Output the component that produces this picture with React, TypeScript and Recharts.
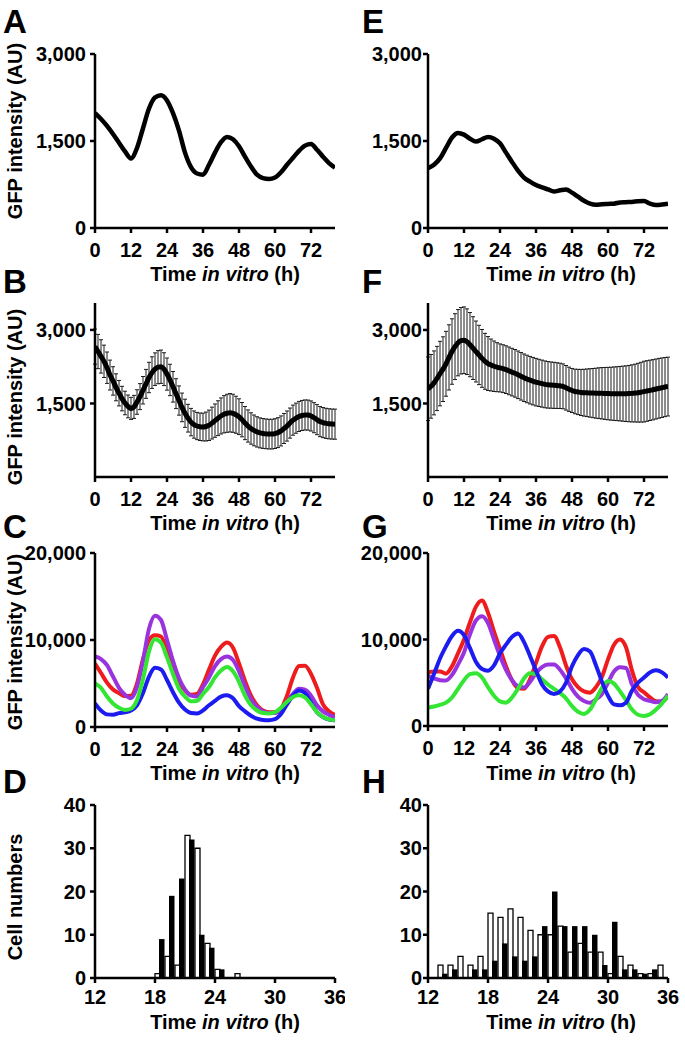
import React from 'react';
import { LineChart, Line, XAxis, YAxis, ErrorBar, BarChart, Bar } from 'recharts';

const FONT = "'Liberation Sans', Arial, Helvetica, sans-serif";

const TIME_TICKS = [0, 12, 24, 36, 48, 60, 72];
const HIST_TICKS = [12, 18, 24, 30, 36];
const GFP_TICKS = [0, 1500, 3000];
const GFP_MEAN_TICKS = [1500, 3000];
const CELL_TICKS = [0, 10000, 20000];
const COUNT_TICKS = [0, 10, 20, 30, 40];

const HOURS_2H = Array.from({ length: 41 }, (_, i) => i * 2);
const HOURS_1H = Array.from({ length: 81 }, (_, i) => i);
const BINS = Array.from({ length: 24 }, (_, i) => 12 + i);

// A: single SCN explant, E: second explant (2 h steps)
const A_GFP = [1980, 1880, 1760, 1620, 1470, 1320, 1200, 1380, 1720, 2060, 2250, 2290, 2200, 1980, 1680, 1300, 1050, 940, 920, 1090, 1300, 1480, 1570, 1530, 1410, 1230, 1060, 920, 860, 845, 870, 960, 1090, 1210, 1330, 1420, 1450, 1350, 1230, 1120, 1040];
const E_GFP = [1030, 1090, 1200, 1380, 1560, 1640, 1610, 1540, 1490, 1530, 1570, 1540, 1460, 1300, 1140, 990, 870, 800, 740, 700, 665, 630, 650, 665, 610, 540, 470, 420, 400, 410, 415, 420, 440, 445, 450, 460, 465, 420, 395, 405, 420];

// B / F: mean with error (1 h steps)
const B_MEAN = [2660, 2560, 2460, 2360, 2230, 2080, 1960, 1830, 1710, 1600, 1510, 1440, 1400, 1430, 1530, 1640, 1770, 1900, 2030, 2130, 2200, 2240, 2250, 2200, 2100, 1980, 1840, 1700, 1560, 1420, 1300, 1200, 1120, 1070, 1040, 1025, 1020, 1030, 1055, 1100, 1150, 1200, 1245, 1280, 1300, 1310, 1300, 1270, 1230, 1170, 1100, 1040, 990, 950, 920, 900, 888, 880, 875, 875, 885, 905, 940, 990, 1040, 1100, 1160, 1200, 1235, 1255, 1265, 1263, 1245, 1210, 1170, 1130, 1110, 1095, 1085, 1080, 1078];
const B_ERR = [358, 350, 340, 330, 320, 305, 290, 275, 260, 250, 240, 232, 225, 235, 250, 265, 280, 295, 310, 322, 332, 338, 340, 335, 328, 320, 312, 305, 298, 292, 287, 283, 280, 278, 278, 280, 283, 295, 310, 325, 340, 355, 368, 380, 388, 392, 388, 378, 365, 350, 338, 328, 320, 314, 309, 306, 304, 303, 303, 303, 304, 305, 306, 306, 307, 307, 307, 307, 307, 307, 307, 307, 307, 307, 307, 307, 307, 307, 307, 307, 307];
const F_MEAN = [1800, 1850, 1920, 2010, 2110, 2200, 2310, 2440, 2560, 2660, 2740, 2780, 2790, 2760, 2700, 2630, 2560, 2490, 2420, 2360, 2315, 2285, 2260, 2240, 2225, 2210, 2190, 2165, 2140, 2115, 2085, 2055, 2025, 2000, 1975, 1955, 1935, 1920, 1905, 1890, 1880, 1875, 1870, 1865, 1860, 1850, 1820, 1790, 1765, 1745, 1735, 1725, 1720, 1718, 1715, 1712, 1710, 1710, 1708, 1705, 1702, 1700, 1700, 1700, 1700, 1700, 1700, 1702, 1706, 1712, 1720, 1730, 1742, 1755, 1768, 1780, 1795, 1810, 1822, 1835, 1845];
const F_ERR = [648, 650, 652, 655, 658, 660, 662, 665, 668, 672, 676, 678, 680, 670, 655, 640, 622, 605, 590, 570, 550, 530, 515, 500, 490, 488, 487, 487, 486, 486, 486, 486, 485, 485, 485, 485, 485, 482, 480, 478, 475, 472, 470, 466, 462, 458, 455, 452, 450, 455, 462, 470, 478, 486, 494, 502, 510, 518, 524, 530, 535, 540, 545, 550, 556, 562, 568, 575, 582, 590, 600, 610, 620, 618, 616, 614, 612, 610, 607, 604, 600];

// C / G: single cells (2 h steps)
const C_RED = [7300, 6200, 5100, 4300, 3900, 3550, 3600, 5000, 7800, 10000, 10550, 10400, 8800, 7000, 5200, 4200, 3700, 3800, 4900, 6600, 8200, 9200, 9700, 9100, 7300, 5300, 3600, 2500, 1900, 1700, 1700, 2100, 3600, 5700, 7000, 7050, 6100, 4500, 2600, 1800, 1400];
const C_PURPLE = [8100, 7800, 7100, 5800, 4500, 3700, 3300, 4600, 7600, 11300, 12800, 12300, 10000, 7600, 5600, 4300, 3600, 3500, 4600, 5700, 7000, 7800, 8100, 7700, 6400, 4700, 3200, 2300, 1800, 1600, 1600, 2000, 2900, 3800, 4400, 4300, 3600, 2500, 1800, 1400, 1150];
const C_GREEN = [5000, 4500, 3500, 2700, 2200, 1950, 2100, 3100, 5500, 8700, 10100, 9700, 8000, 6100, 4400, 3500, 2950, 3000, 3800, 4600, 5700, 6500, 6900, 6400, 5200, 3600, 2500, 1900, 1600, 1550, 1700, 2200, 2900, 3450, 3650, 3400, 2600, 1700, 1150, 880, 770];
const C_BLUE = [2700, 1900, 1450, 1400, 1600, 1700, 1900, 2500, 3900, 5800, 6800, 6600, 5400, 4000, 2800, 2000, 1600, 1550, 1900, 2500, 3000, 3500, 3650, 3300, 2400, 1800, 1300, 950, 800, 780, 900, 1500, 2600, 3600, 4200, 3900, 2800, 1700, 1150, 850, 770];
const G_RED = [6200, 6300, 6300, 6050, 6900, 8400, 10000, 12000, 13800, 14500, 13100, 10900, 8900, 6900, 5300, 4400, 4300, 5400, 7300, 9200, 10300, 10400, 9100, 7000, 5400, 4500, 4000, 3850, 4500, 5700, 7700, 9400, 10000, 9100, 6400, 4500, 3900, 3300, 2850, 2800, 3500];
const G_PURPLE = [5800, 5500, 5300, 5250, 5900, 7100, 8500, 10600, 12200, 12700, 11900, 10000, 8100, 6500, 5300, 4600, 4450, 5100, 6100, 6800, 7100, 7100, 6500, 5500, 4300, 3400, 2900, 2700, 3100, 3700, 5000, 6300, 6800, 6700, 4800, 3600, 3100, 2900, 2750, 2900, 3700];
const G_GREEN = [2150, 2250, 2450, 2700, 3300, 4300, 5300, 6000, 6100, 5600, 4500, 3500, 2850, 2700, 3300, 4300, 5500, 6100, 6000, 5400, 4800, 4300, 3800, 3200, 2300, 1650, 1400, 1900, 3100, 4400, 5200, 4900, 4000, 3000, 1900, 1300, 1150, 1350, 1900, 2600, 3500];
const G_BLUE = [4300, 6000, 7800, 9200, 10400, 11000, 10500, 9000, 7400, 6600, 6400, 7000, 8400, 9400, 10300, 10700, 9700, 8100, 6400, 4800, 4000, 3700, 4000, 5000, 6900, 8200, 8900, 8600, 7000, 5100, 3500, 2500, 2400, 2700, 4100, 5000, 5600, 6200, 6450, 6200, 5600];

// D / H: cell numbers per 1 h bin (open and filled bars)
const D_OPEN = [0, 0, 0, 0, 0, 0, 1, 5, 3, 33, 30, 8, 2, 0, 1, 0, 0, 0, 0, 0, 0, 0, 0, 0];
const D_FILLED = [0, 0, 0, 0, 0, 0, 9, 19, 23, 32, 10, 7, 2, 0, 0, 0, 0, 0, 0, 0, 0, 0, 0, 0];
const H_OPEN = [0, 3, 3, 5, 3, 5, 15, 14, 16, 14, 11, 10, 10, 12, 6, 8, 6, 6, 1, 5, 3, 1, 1, 3];
const H_FILLED = [0, 1, 2, 0, 2, 2, 4, 8, 5, 4, 5, 12, 20, 12, 12, 12, 10, 3, 13, 2, 2, 1, 2, 0];

const RED = '#ee1c1c';
const PURPLE = '#9933dd';
const GREEN = '#33e633';
const BLUE = '#1c1cf0';

const toRows = (xs: number[], cols: Record<string, number[]>) =>
  xs.map((t, i) => {
    const r: any = { t };
    Object.keys(cols).forEach((k) => (r[k] = cols[k][i]));
    return r;
  });

const COLS = {
  left: { x: 0, yw: 95, right: 10, margin: 4 },
  right: { x: 340, yw: 88, right: 17, margin: 1 },
};

const tickStyle = { fill: '#000', fontSize: 20, fontWeight: 700, fontFamily: FONT };
const axisStyle = { stroke: '#000', strokeWidth: 2.5 };
const fmt = (v: number) => v.toLocaleString('en-US');

type Side = 'left' | 'right';

// chart box: 10 px above the plot, 45 px below it for the x axis
const Box: React.FC<{ side: Side; top: number; plotH: number; children: (w: number, h: number) => React.ReactNode }> = ({ side, top, plotH, children }) => (
  <div style={{ position: 'absolute', left: COLS[side].x, top: top - 10 }}>{children(345, plotH + 55)}</div>
);

const yAxis = (side: Side, domain: number[], ticks: number[]) => (
  <YAxis
    type="number"
    domain={domain}
    ticks={ticks}
    interval={0}
    allowDataOverflow
    tickFormatter={fmt}
    width={COLS[side].yw}
    tick={tickStyle}
    tickSize={5}
    tickMargin={COLS[side].margin}
    axisLine={axisStyle}
    tickLine={axisStyle}
  />
);

const timeAxis = (
  <XAxis
    dataKey="t"
    type="number"
    domain={[0, 80]}
    ticks={TIME_TICKS}
    interval={0}
    allowDataOverflow
    height={45}
    tick={tickStyle}
    tickSize={5}
    tickMargin={10}
    axisLine={axisStyle}
    tickLine={axisStyle}
  />
);

const TracePanel: React.FC<{ side: Side; top: number; plotH: number; domain: number[]; ticks: number[]; data: any[]; series: { key: string; color: string; width: number }[] }> = ({ side, top, plotH, domain, ticks, data, series }) => (
  <Box side={side} top={top} plotH={plotH}>
    {(w, h) => (
      <LineChart width={w} height={h} data={data} margin={{ top: 10, right: COLS[side].right, bottom: 0, left: 0 }}>
        {timeAxis}
        {yAxis(side, domain, ticks)}
        {series.map((s) => (
          <Line key={s.key} dataKey={s.key} type="monotone" stroke={s.color} strokeWidth={s.width} dot={false} isAnimationActive={false} />
        ))}
      </LineChart>
    )}
  </Box>
);

const MeanPanel: React.FC<{ side: Side; data: any[] }> = ({ side, data }) => (
  <Box side={side} top={303} plotH={174}>
    {(w, h) => (
      <LineChart width={w} height={h} data={data} margin={{ top: 10, right: COLS[side].right, bottom: 0, left: 0 }}>
        {timeAxis}
        {yAxis(side, [0, 3550], GFP_MEAN_TICKS)}
        <Line dataKey="mean" stroke="none" dot={false} isAnimationActive={false}>
          <ErrorBar dataKey="err" width={2} stroke="#1a1a1a" strokeWidth={1} direction="y" />
        </Line>
        <Line dataKey="mean" type="monotone" stroke="#000" strokeWidth={5} dot={false} isAnimationActive={false} />
      </LineChart>
    )}
  </Box>
);

const HistPanel: React.FC<{ side: Side; data: any[] }> = ({ side, data }) => (
  <Box side={side} top={805} plotH={173}>
    {(w, h) => (
      <BarChart width={w} height={h} data={data} barGap={-1} margin={{ top: 10, right: COLS[side].right, bottom: 0, left: 0 }}>
        <XAxis
          dataKey="t"
          type="number"
          domain={[12, 36]}
          ticks={HIST_TICKS}
          interval={0}
          allowDataOverflow
          height={45}
          tick={tickStyle}
          tickSize={5}
          tickMargin={7}
          axisLine={axisStyle}
          tickLine={axisStyle}
        />
        {yAxis(side, [0, 40], COUNT_TICKS)}
        <Bar dataKey="open" barSize={5} fill="#fff" stroke="#000" strokeWidth={1.3} isAnimationActive={false} />
        <Bar dataKey="filled" barSize={5.5} fill="#000" isAnimationActive={false} />
      </BarChart>
    )}
  </Box>
);

const TimeTitle: React.FC<{ x: number; y: number }> = ({ x, y }) => (
  <text x={x} y={y} textAnchor="middle" fontSize={20} fontWeight={700}>
    Time <tspan fontStyle="italic">in vitro</tspan> (h)
  </text>
);

const YTitle: React.FC<{ y: number; label: string }> = ({ y, label }) => (
  <text x={0} y={0} transform={`translate(22, ${y}) rotate(-90)`} textAnchor="middle" fontSize={20} fontWeight={700}>
    {label}
  </text>
);

const LETTERS = [
  { l: 'A', x: 3, y: 33 },
  { l: 'B', x: 3, y: 293 },
  { l: 'C', x: 3, y: 538 },
  { l: 'D', x: 3, y: 793 },
  { l: 'E', x: 362, y: 33 },
  { l: 'F', x: 362, y: 293 },
  { l: 'G', x: 362, y: 538 },
  { l: 'H', x: 362, y: 793 },
];

export default function App() {
  const aData = toRows(HOURS_2H, { v: A_GFP });
  const eData = toRows(HOURS_2H, { v: E_GFP });
  const bData = toRows(HOURS_1H, { mean: B_MEAN, err: B_ERR });
  const fData = toRows(HOURS_1H, { mean: F_MEAN, err: F_ERR });
  const cData = toRows(HOURS_2H, { red: C_RED, purple: C_PURPLE, blue: C_BLUE, green: C_GREEN });
  const gData = toRows(HOURS_2H, { red: G_RED, purple: G_PURPLE, green: G_GREEN, blue: G_BLUE });
  const binCenters = BINS.map((b) => b + 0.5);
  const dData = toRows(binCenters, { open: D_OPEN, filled: D_FILLED });
  const hData = toRows(binCenters, { open: H_OPEN, filled: H_FILLED });

  const cSeries = [
    { key: 'red', color: RED, width: 4 },
    { key: 'purple', color: PURPLE, width: 4 },
    { key: 'blue', color: BLUE, width: 4 },
    { key: 'green', color: GREEN, width: 4 },
  ];
  const gSeries = [
    { key: 'red', color: RED, width: 4 },
    { key: 'purple', color: PURPLE, width: 4 },
    { key: 'green', color: GREEN, width: 4 },
    { key: 'blue', color: BLUE, width: 4 },
  ];

  return (
    <div style={{ position: 'absolute', left: 0, top: 0, width: 685, height: 1044, background: '#fff', fontFamily: FONT, overflow: 'hidden' }}>
      <TracePanel side="left" top={54} plotH={174} domain={[0, 3000]} ticks={GFP_TICKS} data={aData} series={[{ key: 'v', color: '#000', width: 4.5 }]} />
      <TracePanel side="right" top={54} plotH={174} domain={[0, 3000]} ticks={GFP_TICKS} data={eData} series={[{ key: 'v', color: '#000', width: 4.5 }]} />
      <MeanPanel side="left" data={bData} />
      <MeanPanel side="right" data={fData} />
      <TracePanel side="left" top={553} plotH={174} domain={[0, 20000]} ticks={CELL_TICKS} data={cData} series={cSeries} />
      <TracePanel side="right" top={553} plotH={173} domain={[0, 20000]} ticks={CELL_TICKS} data={gData} series={gSeries} />
      <HistPanel side="left" data={dData} />
      <HistPanel side="right" data={hData} />

      <svg width={685} height={1044} style={{ position: 'absolute', left: 0, top: 0, pointerEvents: 'none' }} fontFamily={FONT} fill="#000">
        {LETTERS.map((p) => (
          <text key={p.l} x={p.x} y={p.y} fontSize={33} fontWeight={700}>
            {p.l}
          </text>
        ))}
        <YTitle y={131} label="GFP intensity (AU)" />
        <YTitle y={397} label="GFP intensity (AU)" />
        <YTitle y={642} label="GFP intensity (AU)" />
        <YTitle y={897} label="Cell numbers" />
        <TimeTitle x={225} y={281} />
        <TimeTitle x={225} y={530} />
        <TimeTitle x={225} y={780} />
        <TimeTitle x={225} y={1029} />
        <TimeTitle x={561} y={281} />
        <TimeTitle x={561} y={530} />
        <TimeTitle x={561} y={780} />
        <TimeTitle x={561} y={1029} />
      </svg>
    </div>
  );
}
